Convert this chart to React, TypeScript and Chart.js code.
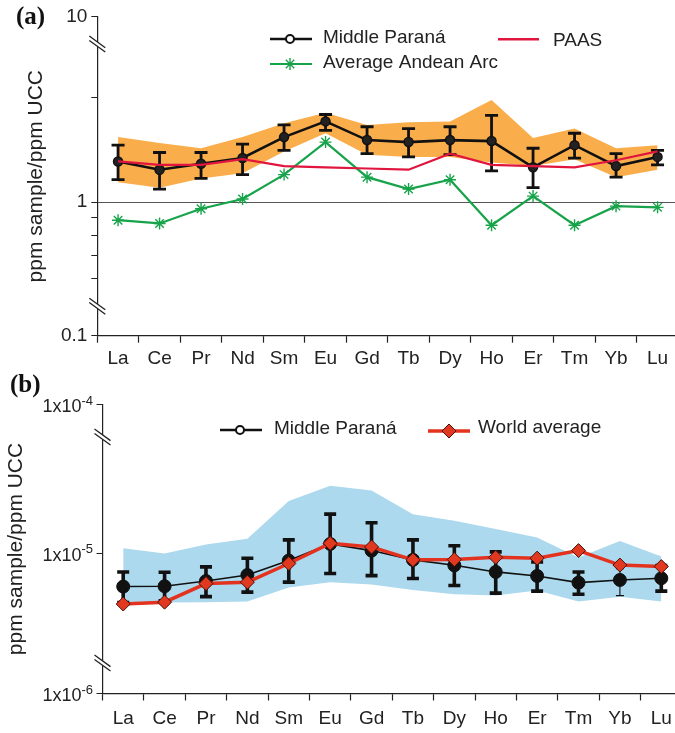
import React, { useEffect, useRef } from 'react';
import { Chart, registerables, LinearScale } from 'chart.js';

Chart.register(...registerables);

// ---------------- data ----------------
const categories = ['La', 'Ce', 'Pr', 'Nd', 'Sm', 'Eu', 'Gd', 'Tb', 'Dy', 'Ho', 'Er', 'Tm', 'Yb', 'Lu'];

// panel (a)
const middleParanaA = [1.31, 1.24, 1.29, 1.34, 1.54, 1.71, 1.51, 1.49, 1.51, 1.5, 1.26, 1.46, 1.27, 1.35];
const middleParanaAHigh = [1.46, 1.39, 1.39, 1.47, 1.67, 1.79, 1.65, 1.63, 1.65, 1.78, 1.43, 1.58, 1.38, 1.41];
const middleParanaALow = [1.16, 1.09, 1.17, 1.2, 1.41, 1.61, 1.38, 1.35, 1.37, 1.23, 1.1, 1.34, 1.18, 1.28];
const rangeAHigh = [1.54, 1.48, 1.43, 1.54, 1.69, 1.81, 1.67, 1.7, 1.71, 1.97, 1.53, 1.63, 1.43, 1.46];
const rangeALow = [1.14, 1.1, 1.17, 1.21, 1.4, 1.58, 1.37, 1.35, 1.35, 1.3, 1.27, 1.33, 1.18, 1.24];
const paas = [1.31, 1.28, 1.28, 1.33, 1.27, 1.26, 1.25, 1.24, 1.38, 1.28, 1.27, 1.26, 1.32, 1.4];
const andeanArc = [0.886, 0.867, 0.956, 1.02, 1.2, 1.49, 1.18, 1.09, 1.16, 0.857, 1.04, 0.857, 0.973, 0.965];
const yTicksA = [0.1, 0.6, 0.7, 0.8, 0.9, 1, 2, 10];
const yTickLabelsA: Record<string, string> = { '0.1': '0.1', '1': '1', '10': '10' };

// panel (b)
const middleParanaB = [7.68e-6, 7.7e-6, 8.02e-6, 8.41e-6, 9.43e-6, 1.075e-5, 1.02e-5, 9.48e-6, 9.08e-6, 8.62e-6, 8.35e-6, 7.92e-6, 8.09e-6, 8.2e-6];
const middleParanaBHigh = [8.61e-6, 8.6e-6, 8.97e-6, 9.6e-6, 1.11e-5, 1.36e-5, 1.27e-5, 1.11e-5, 1.06e-5, 1.01e-5, 9.32e-6, 8.61e-6, 8.85e-6, 9.06e-6];
const middleParanaBLow = [6.77e-6, 6.86e-6, 7.09e-6, 7.35e-6, 7.95e-6, 8.51e-6, 8.37e-6, 8.18e-6, 7.74e-6, 7.29e-6, 7.41e-6, 7.23e-6, 7.15e-6, 7.41e-6];
const worldAverage = [6.69e-6, 6.79e-6, 7.86e-6, 7.95e-6, 9.21e-6, 1.08e-5, 1.05e-5, 9.48e-6, 9.5e-6, 9.67e-6, 9.61e-6, 1.02e-5, 9.1e-6, 8.99e-6];
const rangeBHigh = [1.04e-5, 9.96e-6, 1.07e-5, 1.12e-5, 1.51e-5, 1.7e-5, 1.64e-5, 1.36e-5, 1.29e-5, 1.21e-5, 1.13e-5, 9.65e-6, 1.1e-5, 9.73e-6];
const rangeBLow = [6.71e-6, 6.77e-6, 6.79e-6, 6.82e-6, 7.62e-6, 7.95e-6, 7.8e-6, 7.47e-6, 7.23e-6, 7.15e-6, 7.44e-6, 6.82e-6, 7.09e-6, 6.82e-6];
const yTicksB = [1e-6, 1e-5, 1e-4];
const yTickExpB = ['-6', '-5', '-4'];

// ---------------- broken log scale ----------------
class BrokenLogScale extends LinearScale {
  static id = 'brokenLog';
  anchors(): number[][] {
    return (this.options as any).anchors;
  }
  determineDataLimits() {
    const a = this.anchors();
    (this as any).min = a[0][0];
    (this as any).max = a[a.length - 1][0];
  }
  buildTicks() {
    return ((this.options as any).tickValues as number[]).map((v) => ({ value: v }));
  }
  toDecimal(value: number) {
    const a = this.anchors();
    const lv = Math.log10(value);
    for (let i = 0; i < a.length - 1; i++) {
      const l0 = Math.log10(a[i][0]);
      const l1 = Math.log10(a[i + 1][0]);
      if (lv <= l1 || i === a.length - 2) {
        return a[i][1] + ((lv - l0) / (l1 - l0)) * (a[i + 1][1] - a[i][1]);
      }
    }
    return 0;
  }
  getPixelForValue(value: any) {
    if (value === null || value === undefined || !(value > 0)) return NaN;
    return this.getPixelForDecimal(this.toDecimal(value));
  }
  getValueForPixel(pixel: number) {
    const d = this.getDecimalForPixel(pixel);
    const a = this.anchors();
    for (let i = 0; i < a.length - 1; i++) {
      if (d <= a[i + 1][1] || i === a.length - 2) {
        const l0 = Math.log10(a[i][0]);
        const l1 = Math.log10(a[i + 1][0]);
        const t = (d - a[i][1]) / (a[i + 1][1] - a[i][1]);
        return Math.pow(10, l0 + t * (l1 - l0));
      }
    }
    return 1;
  }
}
Chart.register(BrokenLogScale as any);

const SANS = '"Liberation Sans", Arial, Helvetica, sans-serif';
Chart.defaults.font.family = SANS;
Chart.defaults.color = '#222';

const AX = '#222';

function drawBreak(ctx: CanvasRenderingContext2D, x: number, y: number) {
  ctx.save();
  const dx = 8, dy = 5.8, g = 2.2;
  ctx.fillStyle = '#fff';
  ctx.beginPath();
  ctx.moveTo(x - dx, y - dy - g);
  ctx.lineTo(x + dx, y + dy - g);
  ctx.lineTo(x + dx, y + dy + g);
  ctx.lineTo(x - dx, y - dy + g);
  ctx.closePath();
  ctx.fill();
  ctx.strokeStyle = AX;
  ctx.lineWidth = 1.3;
  ctx.beginPath();
  ctx.moveTo(x - dx, y - dy - g);
  ctx.lineTo(x + dx, y + dy - g);
  ctx.moveTo(x - dx, y - dy + g);
  ctx.lineTo(x + dx, y + dy + g);
  ctx.stroke();
  ctx.restore();
}

function drawErrorBars(chart: any, high: number[], low: number[], width: number, cap: number, thin: number[]) {
  const ctx = chart.ctx as CanvasRenderingContext2D;
  const xs = chart.scales.x;
  const ys = chart.scales.y;
  ctx.save();
  ctx.strokeStyle = '#111';
  high.forEach((h, i) => {
    const px = xs.getPixelForValue(i);
    const pt = ys.getPixelForValue(h);
    const pb = ys.getPixelForValue(low[i]);
    const isThin = thin.includes(i);
    const c = isThin ? 4 : cap;
    ctx.lineWidth = isThin ? 1.1 : width;
    ctx.beginPath();
    ctx.moveTo(px, pt);
    ctx.lineTo(px, pb);
    ctx.moveTo(px - c, pt);
    ctx.lineTo(px + c, pt);
    ctx.moveTo(px - c, pb);
    ctx.lineTo(px + c, pb);
    ctx.stroke();
  });
  ctx.restore();
}

function legendLine(ctx: CanvasRenderingContext2D, x0: number, x1: number, y: number, color: string, w: number) {
  ctx.save();
  ctx.strokeStyle = color;
  ctx.lineWidth = w;
  ctx.beginPath();
  ctx.moveTo(x0, y);
  ctx.lineTo(x1, y);
  ctx.stroke();
  ctx.restore();
}

function legendText(ctx: CanvasRenderingContext2D, text: string, x: number, y: number) {
  ctx.save();
  ctx.font = `19px ${SANS}`;
  ctx.fillStyle = '#222';
  ctx.textAlign = 'left';
  ctx.textBaseline = 'middle';
  ctx.fillText(text, x, y);
  ctx.restore();
}

function legendCircle(ctx: CanvasRenderingContext2D, x: number, y: number) {
  ctx.save();
  ctx.fillStyle = '#fff';
  ctx.strokeStyle = '#111';
  ctx.lineWidth = 2;
  ctx.beginPath();
  ctx.arc(x, y, 4, 0, Math.PI * 2);
  ctx.fill();
  ctx.stroke();
  ctx.restore();
}

function panelLabel(ctx: CanvasRenderingContext2D, text: string, x: number, y: number) {
  ctx.save();
  ctx.font = `bold 25px "Liberation Serif", "Times New Roman", serif`;
  ctx.fillStyle = '#111';
  ctx.textAlign = 'left';
  ctx.textBaseline = 'middle';
  ctx.fillText(text, x, y);
  ctx.restore();
}

const W = 690;
const HA = 380;
const TOPB = 365;
const HB = 733 - TOPB;

function xScale(height: number, pad: number) {
  return {
    type: 'category' as const,
    offset: true,
    grid: { offset: true, drawOnChartArea: false, drawTicks: true, tickLength: 7, tickColor: AX, tickWidth: 1.2 },
    border: { color: AX, width: 1.2 },
    ticks: { font: { size: 19 }, color: '#222', padding: pad, maxRotation: 0, autoSkip: false },
    afterFit: (s: any) => {
      s.height = height;
    },
  };
}

export default function App() {
  const refA = useRef<HTMLCanvasElement>(null);
  const refB = useRef<HTMLCanvasElement>(null);

  useEffect(() => {
    // ---------- panel (a) ----------
    const decoA = {
      id: 'decoA',
      beforeDatasetDraw(chart: any, args: any) {
        if (args.index === 1) drawErrorBars(chart, middleParanaAHigh, middleParanaALow, 2.8, 6.5, []);
      },
      afterDraw(chart: any) {
        const ctx = chart.ctx as CanvasRenderingContext2D;
        const ys = chart.scales.y;
        const left = chart.chartArea.left;
        drawBreak(ctx, left, ys.getPixelForValue(2.86));
        drawBreak(ctx, left, ys.getPixelForValue(0.5));
        legendLine(ctx, 270, 312, 39, '#111', 2.5);
        legendCircle(ctx, 290, 39);
        legendText(ctx, 'Middle Paraná', 323, 37.5);
        legendLine(ctx, 270, 312, 64, '#17a34a', 2.2);
        ctx.save();
        ctx.strokeStyle = '#17a34a';
        ctx.lineWidth = 1.4;
        ctx.beginPath();
        for (let k = 0; k < 4; k++) {
          const a = (k * Math.PI) / 4;
          ctx.moveTo(290 - 6 * Math.cos(a), 64 - 6 * Math.sin(a));
          ctx.lineTo(290 + 6 * Math.cos(a), 64 + 6 * Math.sin(a));
        }
        ctx.stroke();
        ctx.restore();
        legendText(ctx, 'Average Andean Arc', 323, 63);
        legendLine(ctx, 498, 539, 39.3, '#e0163e', 2.5);
        legendText(ctx, 'PAAS', 553, 41);
        panelLabel(ctx, '(a)', 16, 18);
      },
    };

    const chartA = new Chart(refA.current as HTMLCanvasElement, {
      type: 'line',
      data: {
        labels: categories,
        datasets: [
          {
            label: 'PAAS',
            data: paas,
            borderColor: '#e0163e',
            borderWidth: 2.2,
            pointRadius: 0,
            fill: false,
            order: 1,
          },
          {
            label: 'Middle Paraná',
            data: middleParanaA,
            borderColor: '#111',
            borderWidth: 2.6,
            pointRadius: 4.5,
            pointStyle: 'circle',
            pointBackgroundColor: '#222',
            pointBorderColor: '#111',
            pointBorderWidth: 1.5,
            fill: false,
            order: 2,
          },
          {
            label: 'Average Andean Arc',
            data: andeanArc,
            borderColor: '#17a34a',
            borderWidth: 2.2,
            pointRadius: 6,
            pointStyle: 'star',
            pointBorderColor: '#17a34a',
            pointBorderWidth: 1.4,
            fill: false,
            order: 3,
          },
          {
            label: 'range high',
            data: rangeAHigh,
            borderWidth: 0,
            borderColor: 'rgba(0,0,0,0)',
            pointRadius: 0,
            backgroundColor: '#f9ad4b',
            fill: '+1',
            order: 10,
          },
          {
            label: 'range low',
            data: rangeALow,
            borderWidth: 0,
            borderColor: 'rgba(0,0,0,0)',
            pointRadius: 0,
            fill: false,
            order: 11,
          },
        ],
      },
      options: {
        responsive: false,
        animation: false,
        devicePixelRatio: 1,
        events: [],
        layout: { padding: { top: 16.7, right: W - 678.3, left: 0, bottom: 0 } },
        plugins: { legend: { display: false }, tooltip: { enabled: false } },
        elements: { line: { tension: 0 } },
        scales: {
          x: xScale(HA - 335.7, 4.5) as any,
          y: {
            type: 'brokenLog' as any,
            anchors: [
              [0.1, 0],
              [0.5, 0.0925],
              [2.9, 0.9207],
              [10, 1],
            ],
            tickValues: yTicksA,
            grid: {
              drawOnChartArea: true,
              drawTicks: true,
              tickLength: 6,
              tickColor: AX,
              lineWidth: 1,
              color: (c: any) => (c.tick && c.tick.value === 1 ? '#555' : 'rgba(0,0,0,0)'),
            },
            border: { color: AX, width: 1.2 },
            ticks: {
              autoSkip: false,
              font: { size: 19 },
              color: '#222',
              padding: 4,
              callback: (v: any) => yTickLabelsA[String(v)] ?? '',
            },
            title: {
              display: true,
              text: 'ppm sample/ppm UCC',
              font: { size: 21 },
              color: '#222',
              padding: { top: 24, bottom: 0 },
            },
            afterFit: (s: any) => {
              s.width = 97.3;
            },
          } as any,
        },
      },
      plugins: [decoA as any],
    });

    // ---------- panel (b) ----------
    const decoB = {
      id: 'decoB',
      beforeDatasetDraw(chart: any, args: any) {
        if (args.index === 1) drawErrorBars(chart, middleParanaBHigh, middleParanaBLow, 3.6, 6, [12]);
      },
      afterDraw(chart: any) {
        const ctx = chart.ctx as CanvasRenderingContext2D;
        const ys = chart.scales.y;
        const left = chart.chartArea.left;
        drawBreak(ctx, left, ys.getPixelForValue(2.5e-5));
        drawBreak(ctx, left, ys.getPixelForValue(4.2e-6));
        // tick labels with superscript exponents
        ctx.save();
        ctx.fillStyle = '#222';
        ctx.textBaseline = 'middle';
        yTicksB.forEach((v, i) => {
          const py = ys.getPixelForValue(v);
          const right = 93;
          ctx.font = `13px ${SANS}`;
          ctx.textAlign = 'right';
          const ew = ctx.measureText(yTickExpB[i]).width;
          ctx.fillText(yTickExpB[i], right, py - 3.5);
          ctx.font = `18px ${SANS}`;
          ctx.fillText('1x10', right - ew, py + 3);
        });
        ctx.restore();
        legendLine(ctx, 220, 262, 65, '#111', 2.5);
        legendCircle(ctx, 240, 65);
        legendText(ctx, 'Middle Paraná', 274, 63.5);
        legendLine(ctx, 428, 470, 66, '#e3331f', 3.5);
        ctx.save();
        ctx.fillStyle = '#e0391f';
        ctx.strokeStyle = '#4a0f08';
        ctx.lineWidth = 1;
        ctx.beginPath();
        ctx.moveTo(449, 59);
        ctx.lineTo(456, 66);
        ctx.lineTo(449, 73);
        ctx.lineTo(442, 66);
        ctx.closePath();
        ctx.fill();
        ctx.stroke();
        ctx.restore();
        legendText(ctx, 'World average', 478, 63);
        panelLabel(ctx, '(b)', 10, 21);
      },
    };

    const chartB = new Chart(refB.current as HTMLCanvasElement, {
      type: 'line',
      data: {
        labels: categories,
        datasets: [
          {
            label: 'World average',
            data: worldAverage,
            borderColor: '#e3331f',
            borderWidth: 3.5,
            pointRadius: 7,
            pointStyle: 'rectRot',
            pointBackgroundColor: '#e0391f',
            pointBorderColor: '#4a0f08',
            pointBorderWidth: 1,
            fill: false,
            order: 1,
          },
          {
            label: 'Middle Paraná',
            data: middleParanaB,
            borderColor: '#111',
            borderWidth: 1.6,
            pointRadius: 6.5,
            pointStyle: 'circle',
            pointBackgroundColor: '#111',
            pointBorderColor: '#111',
            pointBorderWidth: 1,
            fill: false,
            order: 2,
          },
          {
            label: 'range high',
            data: rangeBHigh,
            borderWidth: 0,
            borderColor: 'rgba(0,0,0,0)',
            pointRadius: 0,
            backgroundColor: '#acd9ee',
            fill: '+1',
            order: 10,
          },
          {
            label: 'range low',
            data: rangeBLow,
            borderWidth: 0,
            borderColor: 'rgba(0,0,0,0)',
            pointRadius: 0,
            fill: false,
            order: 11,
          },
        ],
      },
      options: {
        responsive: false,
        animation: false,
        devicePixelRatio: 1,
        events: [],
        layout: { padding: { top: 404.5 - TOPB, right: W - 682.8, left: 0, bottom: 0 } },
        plugins: { legend: { display: false }, tooltip: { enabled: false } },
        elements: { line: { tension: 0 } },
        scales: {
          x: xScale(HB - (693.5 - TOPB), 7) as any,
          y: {
            type: 'brokenLog' as any,
            anchors: [
              [1e-6, 0],
              [4.2e-6, 0.1055],
              [2.5e-5, 0.8875],
              [1e-4, 1],
            ],
            tickValues: yTicksB,
            grid: { drawOnChartArea: false, drawTicks: true, tickLength: 6, tickColor: AX, lineWidth: 1 },
            border: { color: AX, width: 1.2 },
            ticks: { autoSkip: false, font: { size: 18 }, callback: () => '' },
            title: {
              display: true,
              text: 'ppm sample/ppm UCC',
              font: { size: 21 },
              color: '#222',
              padding: { top: 4, bottom: 0 },
            },
            afterFit: (s: any) => {
              s.width = 102.5;
            },
          } as any,
        },
      },
      plugins: [decoB as any],
    });

    return () => {
      chartA.destroy();
      chartB.destroy();
    };
  }, []);

  return (
    <div
      style={{
        position: 'fixed',
        left: 0,
        top: 0,
        width: 675,
        height: 733,
        overflow: 'hidden',
        background: '#fff',
      }}
    >
      <canvas
        ref={refA}
        width={W}
        height={HA}
        style={{ position: 'absolute', left: 0, top: 0, width: W, height: HA, display: 'block' }}
      />
      <canvas
        ref={refB}
        width={W}
        height={HB}
        style={{ position: 'absolute', left: 0, top: TOPB, width: W, height: HB, display: 'block' }}
      />
    </div>
  );
}
